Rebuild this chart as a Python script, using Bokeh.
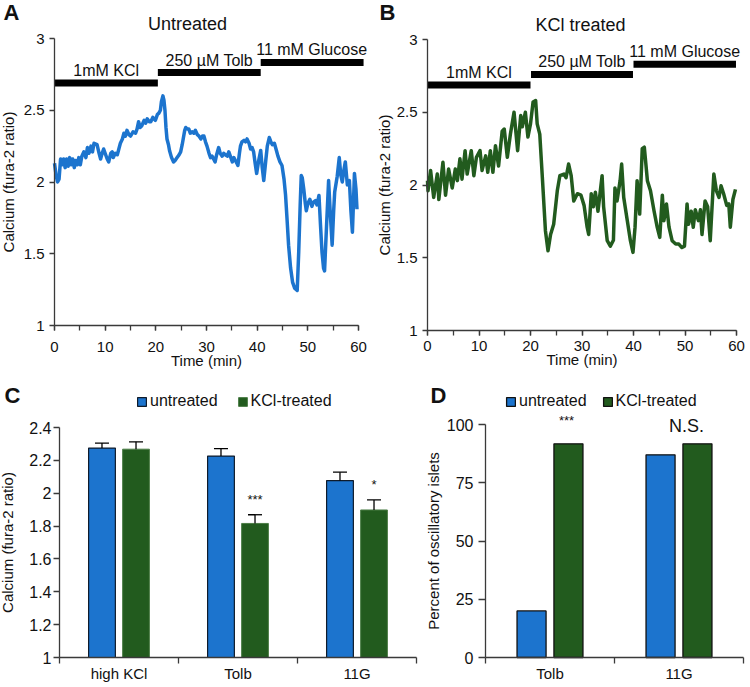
from bokeh.plotting import figure
from bokeh.layouts import row, column
from bokeh.models import (Range1d, Label, Legend, LegendItem, Whisker, TeeHead,
                          FixedTicker, SingleIntervalTicker, ColumnDataSource,
                          NumeralTickFormatter)
from bokeh.embed import file_html
from bokeh.resources import INLINE
from bokeh.core.properties import value

FONT = "Liberation Sans"
BLUE = "#1C74CE"
GREEN = "#225B1E"
AXIS = "#3a3a3a"
TXT = "#111111"

# ---------------- data ----------------
# Panel A: untreated islet trace (time min, fura-2 ratio)
time_a = [0.0, 0.3, 0.6, 0.9, 1.2, 1.5, 1.8, 2.1, 2.4, 2.7, 3.0, 3.3, 3.6, 3.9, 4.2, 4.5,
          4.8, 5.1, 5.4, 5.8, 6.2, 6.5, 6.8, 7.2, 7.5, 7.8, 8.4, 8.8, 9.1, 9.4, 9.7, 10.1,
          10.4, 10.7, 11.1, 11.4, 11.6, 12.0, 12.4, 12.7, 13.0, 13.4, 13.7, 14.0, 14.3, 14.7,
          15.0, 15.5, 16.0, 16.3, 16.6, 16.9, 17.2, 17.7, 18.0, 18.3, 18.7, 19.0, 19.4, 19.9,
          20.3, 20.6, 20.9, 21.1, 21.4, 21.6, 21.8, 22.0, 22.2, 22.5, 22.7, 23.1, 23.5, 23.8,
          24.2, 24.6, 24.9, 25.2, 25.4, 25.7, 25.9, 26.2, 26.5, 26.8, 27.2, 27.5, 27.8, 28.2,
          28.5, 28.9, 29.2, 29.5, 29.8, 30.1, 30.5, 30.8, 31.1, 31.4, 31.7, 32.0, 32.4, 32.7,
          33.1, 33.4, 33.7, 34.1, 34.4, 34.7, 35.1, 35.4, 35.7, 36.0, 36.2, 36.5, 36.7, 37.0,
          37.4, 37.7, 38.0, 38.4, 38.7, 39.0, 39.3, 39.6, 39.9, 40.3, 40.7, 41.0, 41.3, 41.7,
          42.0, 42.4, 42.7, 43.0, 43.4, 43.8, 44.1, 44.5, 44.9, 45.3, 45.6, 45.9, 46.2, 46.6,
          47.0, 47.4, 47.9, 48.2, 48.5, 48.7, 48.9, 49.2, 49.5, 49.7, 50.0, 50.4, 50.8, 51.1,
          51.5, 51.8, 52.2, 52.5, 52.8, 53.1, 53.3, 53.7, 54.1, 54.4, 54.8, 55.1, 55.3, 55.8,
          56.2, 56.5, 56.8, 57.1, 57.4, 57.8, 58.2, 58.5, 58.8, 59.0, 59.2, 59.5, 59.7]
ratio_a = [2.13, 2.05, 2.00, 2.02, 2.16, 2.12, 2.16, 2.10, 2.16, 2.11, 2.17, 2.12, 2.16, 2.10, 2.15, 2.12,
           2.17, 2.12, 2.18, 2.21, 2.17, 2.24, 2.20, 2.25, 2.21, 2.27, 2.26, 2.20, 2.16, 2.20, 2.23, 2.19,
           2.16, 2.14, 2.20, 2.21, 2.17, 2.20, 2.19, 2.23, 2.27, 2.30, 2.34, 2.32, 2.36, 2.33,
           2.32, 2.35, 2.34, 2.37, 2.42, 2.38, 2.39, 2.43, 2.41, 2.44, 2.42, 2.42, 2.45, 2.43,
           2.47, 2.48, 2.50, 2.56, 2.60, 2.57, 2.50, 2.38, 2.30, 2.26, 2.22, 2.17, 2.14, 2.15,
           2.17, 2.19, 2.21, 2.26, 2.30, 2.36, 2.38, 2.37, 2.37, 2.34, 2.35, 2.34, 2.36, 2.33,
           2.32, 2.30, 2.32, 2.32, 2.28, 2.25, 2.20, 2.17, 2.18, 2.16, 2.14, 2.19, 2.24, 2.20,
           2.18, 2.20, 2.19, 2.18, 2.21, 2.18, 2.14, 2.17, 2.15, 2.13, 2.115, 2.20, 2.25, 2.28,
           2.29, 2.28, 2.30, 2.27, 2.23, 2.24, 2.21, 2.13, 2.06, 2.15, 2.22, 2.10, 2.01, 2.15,
           2.25, 2.31, 2.28, 2.26, 2.27, 2.22, 2.18, 2.14, 2.115, 2.02, 1.91, 1.74, 1.56, 1.40,
           1.30, 1.26, 1.244, 1.51, 1.85, 2.045, 2.03, 1.95, 1.85, 1.80, 1.85, 1.88, 1.83, 1.86,
           1.87, 1.84, 1.906, 1.70, 1.51, 1.40, 1.38, 1.70, 2.01, 1.80, 1.56, 1.80, 1.93, 2.04,
           2.17, 2.05, 2.00, 2.08, 2.14, 1.98, 2.01, 1.80, 1.65, 1.85, 2.06, 1.95, 1.81]

# Panel B: KCl-treated islet trace
time_b = [0.0, 0.1, 0.6, 1.2, 1.9, 2.2, 3.0, 3.5, 4.1, 4.8, 5.4, 5.8, 6.3, 6.7, 7.3, 7.7,
          8.5, 9.0, 9.5, 10.2, 10.6, 11.3, 11.7, 12.2, 12.7, 13.2, 13.8, 14.5, 14.9, 15.5,
          16.1, 16.8, 17.5, 18.1, 18.4, 19.0, 19.5, 20.0, 20.5, 21.0, 21.3, 21.8, 22.3, 22.9,
          23.4, 23.9, 24.5, 25.2, 25.7, 26.5, 26.9, 27.4, 27.9, 28.4, 29.1, 29.8, 30.4, 31.0,
          31.3, 31.8, 32.2, 32.6, 33.1, 33.9, 34.2, 34.9, 35.5, 36.1, 36.4, 36.8, 37.4, 37.7,
          38.1, 38.8, 39.4, 39.9, 40.3, 40.7, 41.2, 41.7, 42.1, 42.7, 43.3, 44.0, 44.6, 45.1,
          45.6, 45.9, 46.4, 46.9, 47.5, 48.2, 48.8, 49.4, 49.9, 50.4, 50.7, 51.2, 51.6, 52.0,
          52.6, 53.0, 53.3, 53.9, 54.4, 54.9, 55.6, 56.1, 56.6, 57.0, 57.5, 58.1, 58.5, 58.8,
          59.3, 59.8]
ratio_b = [2.03, 1.96, 2.10, 1.915, 2.075, 1.90, 2.156, 1.93, 2.11, 1.98, 2.11, 2.03, 2.18, 2.04, 2.236, 2.075,
           2.236, 2.064, 2.19, 2.236, 2.10, 2.20, 2.087, 2.236, 2.087, 2.27, 2.13, 2.37, 2.385, 2.19,
           2.35, 2.50, 2.236, 2.477, 2.40, 2.50, 2.33, 2.42, 2.57, 2.58, 2.42, 2.35, 2.053, 1.686,
           1.548, 1.66, 1.73, 1.96, 2.064, 2.075, 2.05, 2.144, 2.064, 1.89, 1.94, 1.93, 1.86, 1.71,
           1.66, 1.94, 1.85, 1.95, 1.82, 2.064, 1.85, 1.617, 1.58, 1.62, 1.98, 1.89, 2.03, 2.144,
           1.915, 1.755, 1.617, 1.537, 1.71, 2.03, 1.80, 2.25, 2.26, 2.03, 1.96, 1.82, 1.71, 1.64,
           1.93, 1.755, 1.87, 1.71, 1.617, 1.594, 1.594, 1.57, 1.58, 1.87, 1.73, 1.82, 1.71, 1.83,
           1.755, 1.83, 1.66, 1.89, 1.85, 1.617, 2.075, 1.96, 1.915, 1.995, 1.94, 1.86, 1.87, 1.71,
           1.90, 1.97]

stim_labels = ["1mM KCl", "250 \u00b5M Tolb", "11 mM Glucose"]
stim_start_a = [0.0, 20.4, 40.7]
stim_end_a = [20.4, 40.7, 61.0]
stim_level_a = [2.69, 2.763, 2.833]
stim_start_b = [0.0, 20.1, 40.0]
stim_end_b = [20.0, 39.9, 59.9]
stim_level_b = [2.688, 2.76, 2.83]

series = ["untreated", "KCl-treated"]
cal_groups = ["high KCl", "Tolb", "11G"]
cal_untreated = [2.275, 2.226, 2.077]
cal_untreated_err = [0.030, 0.046, 0.051]
cal_kcl = [2.268, 1.816, 1.898]
cal_kcl_err = [0.045, 0.053, 0.061]
cal_sig = ["", "***", "*"]
cal_ticks = [1.0, 1.2, 1.4, 1.6, 1.8, 2.0, 2.2, 2.4]

osc_groups = ["Tolb", "11G"]
osc_untreated = [20.0, 87.0]
osc_kcl = [91.7, 91.7]
osc_sig = ["***", "N.S."]
osc_ticks = [0, 25, 50, 75, 100]

BAR_W = 0.225
BAR_OFF = 0.143

# ---------------- geometry (page pixels) ----------------
# canvas box (left, right, top, bottom); frame mapping (x0px, x1px, ytop_px, ybot_px, xrange, yrange)
CA = (0, 375, 0, 370)
GA = (54, 358, 38, 325, (0, 60), (1, 3))
CB = (375, 750, 0, 370)
GB = (427, 736, 39, 330, (0, 60), (1, 3))
CC = (0, 420, 370, 686)
GC = (59, 416, 427, 657, (0, 3), (1, 2.4))
CD = (420, 750, 370, 686)
GD = (485, 743, 424, 657, (0, 2), (0, 100))


def at(g, px, py):
    x0, x1, yt, yb, (xa, xb), (ya, yb2) = g
    return (xa + (px - x0) / (x1 - x0) * (xb - xa),
            ya + (yb - py) / (yb - yt) * (yb2 - ya))


def make_fig(c, g):
    xs, ytop = at(g, c[0], c[2])
    xe, ybot = at(g, c[1], c[3])
    p = figure(width=c[1] - c[0], height=c[3] - c[2],
               x_range=Range1d(xs, xe), y_range=Range1d(ybot, ytop),
               output_backend="svg", toolbar_location=None, title=None,
               min_border_left=0, min_border_right=0,
               min_border_top=0, min_border_bottom=0)
    p.outline_line_color = None
    p.xgrid.visible = False
    p.ygrid.visible = False
    p.xaxis.fixed_location = g[5][0]
    p.yaxis.fixed_location = g[4][0]
    p.xaxis.bounds = g[4]
    p.yaxis.bounds = (g[5][0], g[5][1] + 1e-6)
    return p


def style(ax, fs, tick_out=5, std=3, label=None, label_fs="15px", lstd=2):
    ax.axis_line_color = AXIS
    ax.axis_line_width = 1.3
    ax.major_tick_line_color = AXIS
    ax.major_tick_line_width = 1.3
    ax.minor_tick_line_color = AXIS
    ax.minor_tick_line_width = 1.3
    ax.major_tick_in = 0
    ax.major_tick_out = tick_out
    ax.minor_tick_in = 0
    ax.minor_tick_out = 0
    ax.major_label_text_font = FONT
    ax.major_label_text_font_size = fs
    ax.major_label_text_color = TXT
    ax.major_label_standoff = std
    if label is not None:
        ax.axis_label = label
        ax.axis_label_text_font = FONT
        ax.axis_label_text_font_size = label_fs
        ax.axis_label_text_font_style = "normal"
        ax.axis_label_text_color = TXT
        ax.axis_label_standoff = lstd


def page_label(p, g, px, py, text, size, align="left", baseline="middle", bold=False):
    x, y = at(g, px, py)
    p.add_layout(Label(x=x, y=y, text=text, text_font=FONT, text_font_size=size,
                       text_align=align, text_baseline=baseline, text_color=TXT,
                       text_font_style="bold" if bold else "normal"))


def trace_panel(c, g, t, v, color, starts, ends, levels, title, title_xy,
                letter, letter_xy, x_std, y_lstd):
    p = make_fig(c, g)
    p.line(t, v, line_width=3.5, color=color, line_join="round")
    p.segment(x0=starts, y0=levels, x1=ends, y1=levels, line_width=7,
              color="black", line_cap="butt")
    for s, e, lv, name in zip(starts, ends, levels, stim_labels):
        p.add_layout(Label(x=(s + min(e, 60.8)) / 2, y=lv, text=name, text_font=FONT,
                           text_font_size="16px", text_align="center",
                           text_baseline="bottom", y_offset=4, text_color=TXT))
    p.xaxis.ticker = SingleIntervalTicker(interval=10, num_minor_ticks=2)
    p.yaxis.ticker = SingleIntervalTicker(interval=0.5)
    p.yaxis.formatter = NumeralTickFormatter(format="0.[0]")
    style(p.xaxis[0], "15px", tick_out=5, std=x_std, label="Time (min)", label_fs="15px", lstd=-3)
    p.xaxis[0].minor_tick_out = 5
    style(p.yaxis[0], "15px", tick_out=5, std=5, label="Calcium (fura-2 ratio)",
          label_fs="15px", lstd=y_lstd)
    page_label(p, g, title_xy[0], title_xy[1], title, "18px", align="center")
    page_label(p, g, letter_xy[0], letter_xy[1], letter, "22px", bold=True)
    return p


# ---------------- panel A / B ----------------
pA = trace_panel(CA, GA, time_a, ratio_a, BLUE, stim_start_a, stim_end_a, stim_level_a,
                 "Untreated", (187, 23), "A", (3, 12), 11, 4)
pB = trace_panel(CB, GB, time_b, ratio_b, GREEN, stim_start_b, stim_end_b, stim_level_b,
                 "KCl treated", (580, 24), "B", (379, 12), 5, 1)


def make_legend(rs, vx, vy, spacing):
    return Legend(items=[LegendItem(label=value(series[0]), renderers=[rs[0]]),
                         LegendItem(label=value(series[1]), renderers=[rs[1]])],
                  orientation="horizontal", location=(vx, vy), glyph_width=11, glyph_height=11,
                  label_height=16, label_standoff=3, spacing=spacing, padding=0, margin=0,
                  border_line_color=None, background_fill_alpha=0,
                  label_text_font=FONT, label_text_font_size="16px", label_text_color=TXT)


# ---------------- panel C ----------------
pC = make_fig(CC, GC)
xc = list(range(len(cal_groups)))
srcC = ColumnDataSource(dict(
    xu=[i + 0.5 - BAR_OFF for i in xc], xk=[i + 0.5 + BAR_OFF for i in xc],
    u=cal_untreated, k=cal_kcl,
    uu=[a + b for a, b in zip(cal_untreated, cal_untreated_err)],
    ku=[a + b for a, b in zip(cal_kcl, cal_kcl_err)]))
rcu = pC.vbar(x="xu", top="u", bottom=1, width=BAR_W, source=srcC,
              fill_color=BLUE, line_color="#0f1b2b", line_width=1.2)
rck = pC.vbar(x="xk", top="k", bottom=1, width=BAR_W, source=srcC,
              fill_color=GREEN, line_color="#4b7d46", line_width=1.0)
for base, low, up in (("xu", "u", "uu"), ("xk", "k", "ku")):
    pC.add_layout(Whisker(base=base, lower=low, upper=up, source=srcC, level="overlay",
                          line_color="black", line_width=1.3, lower_head=None,
                          upper_head=TeeHead(size=14, line_color="black", line_width=1.3)))
for i, s in enumerate(cal_sig):
    if s:
        pC.add_layout(Label(x=i + 0.5 + BAR_OFF, y=cal_kcl[i] + cal_kcl_err[i], text=s,
                            text_font=FONT, text_font_size="13px",
                            text_align="center", text_baseline="bottom", y_offset=8,
                            text_color=TXT))
pC.xaxis.ticker = FixedTicker(ticks=[i + 0.5 for i in xc],
                              minor_ticks=[i for i in range(len(cal_groups) + 1)])
pC.xaxis.major_label_overrides = {i + 0.5: g for i, g in zip(xc, cal_groups)}
pC.yaxis.ticker = FixedTicker(ticks=cal_ticks)
pC.yaxis.formatter = NumeralTickFormatter(format="0.[0]")
style(pC.xaxis[0], "15px", tick_out=0, std=1)
pC.xaxis[0].minor_tick_out = 6
style(pC.yaxis[0], "16px", tick_out=6, std=2, label="Calcium (fura-2 ratio)",
      label_fs="15px", lstd=10)
pC.add_layout(make_legend([rcu, rck], 136 - CC[0], CC[3] - 410, 19))
page_label(pC, GC, 4, 395, "C", "22px", bold=True)

# ---------------- panel D ----------------
pD = make_fig(CD, GD)
xd = list(range(len(osc_groups)))
srcD = ColumnDataSource(dict(
    xu=[i + 0.5 - BAR_OFF for i in xd], xk=[i + 0.5 + BAR_OFF for i in xd],
    u=osc_untreated, k=osc_kcl))
rdu = pD.vbar(x="xu", top="u", bottom=0, width=BAR_W, source=srcD,
              fill_color=BLUE, line_color="#111111", line_width=1.3)
rdk = pD.vbar(x="xk", top="k", bottom=0, width=BAR_W, source=srcD,
              fill_color=GREEN, line_color="#111111", line_width=1.3)
pD.xaxis.ticker = FixedTicker(ticks=[i + 0.5 for i in xd],
                              minor_ticks=[i for i in range(len(osc_groups) + 1)])
pD.xaxis.major_label_overrides = {i + 0.5: g for i, g in zip(xd, osc_groups)}
pD.yaxis.ticker = FixedTicker(ticks=osc_ticks)
style(pD.xaxis[0], "15px", tick_out=0, std=1)
pD.xaxis[0].minor_tick_out = 6
style(pD.yaxis[0], "16px", tick_out=7, std=5, label="Percent of oscillatory islets",
      label_fs="15px", lstd=2)
pD.add_layout(make_legend([rdu, rdk], 505 - CD[0], CD[3] - 410, 15))
page_label(pD, GD, 430, 395, "D", "22px", bold=True)
page_label(pD, GD, 566, 420, osc_sig[0], "13px", align="center")
page_label(pD, GD, 686, 425, osc_sig[1], "18px", align="center")

layout = column(row(pA, pB), row(pC, pD))
open("out.html", "w").write(file_html(layout, INLINE))
